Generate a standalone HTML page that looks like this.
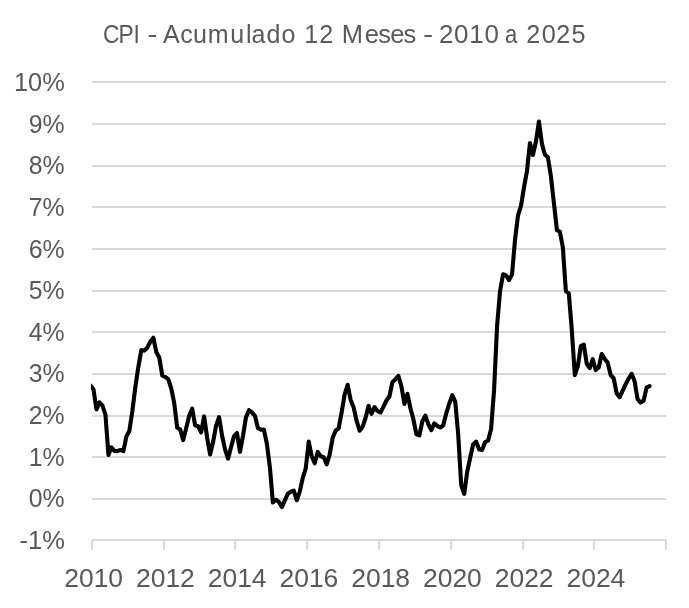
<!DOCTYPE html>
<html lang="pt"><head><meta charset="utf-8"><title>CPI - Acumulado 12 Meses - 2010 a 2025</title>
<style>
html,body{margin:0;padding:0;background:#fff;}
svg{display:block;font-family:"Liberation Sans",sans-serif;}
</style></head>
<body>
<svg width="689" height="608" viewBox="0 0 689 608" role="img" aria-label="CPI - Acumulado 12 Meses - 2010 a 2025">
<rect width="689" height="608" fill="#fff"/>
<g stroke="#d9d9d9" stroke-width="2" fill="none">
<line x1="92" x2="666" y1="82" y2="82"/>
<line x1="92" x2="666" y1="124" y2="124"/>
<line x1="92" x2="666" y1="166" y2="166"/>
<line x1="92" x2="666" y1="207" y2="207"/>
<line x1="92" x2="666" y1="249" y2="249"/>
<line x1="92" x2="666" y1="291" y2="291"/>
<line x1="92" x2="666" y1="332" y2="332"/>
<line x1="92" x2="666" y1="374" y2="374"/>
<line x1="92" x2="666" y1="416" y2="416"/>
<line x1="92" x2="666" y1="457" y2="457"/>
<line x1="92" x2="666" y1="499" y2="499"/>
<line x1="92" x2="666" y1="540" y2="540"/>
<line x1="92" x2="92" y1="540" y2="550"/>
<line x1="164" x2="164" y1="540" y2="550"/>
<line x1="235" x2="235" y1="540" y2="550"/>
<line x1="307" x2="307" y1="540" y2="550"/>
<line x1="379" x2="379" y1="540" y2="550"/>
<line x1="451" x2="451" y1="540" y2="550"/>
<line x1="523" x2="523" y1="540" y2="550"/>
<line x1="594" x2="594" y1="540" y2="550"/>
<line x1="666" x2="666" y1="540" y2="550"/>
</g>
<g fill="#595959" font-size="25">
<text transform="scale(0.9102,1)" x="113.05 130.24 146.81" y="42.9">CPI</text>
<text transform="scale(1.1918,1)" x="123.72" y="42.9">-</text>
<text transform="scale(1.0000,1)" x="162.96 180.16 192.92 207.76 230.27 246.01 251.56 266.39 281.58" y="42.9">Acumulado</text>
<text transform="scale(1.0023,1)" x="303.65 318.58" y="42.9">12</text>
<text transform="scale(1.0198,1)" x="335.12 357.68 370.83 382.59 395.74" y="42.9">Meses</text>
<text transform="scale(1.1918,1)" x="355.22" y="42.9">-</text>
<text transform="scale(1.0371,1)" x="423.32 437.83 452.46 467.24" y="42.9">2010</text>
<text transform="scale(0.8800,1)" x="573.81" y="42.9">a</text>
<text transform="scale(1.0097,1)" x="521.30 536.55 551.01 565.92" y="42.9">2025</text>

<text x="14.00" y="90.8" textLength="50.71" lengthAdjust="spacingAndGlyphs">10%</text>
<text x="28.80" y="132.8" textLength="35.86" lengthAdjust="spacingAndGlyphs">9%</text>
<text x="28.80" y="173.8" textLength="35.86" lengthAdjust="spacingAndGlyphs">8%</text>
<text x="28.80" y="215.8" textLength="35.86" lengthAdjust="spacingAndGlyphs">7%</text>
<text x="28.80" y="257.8" textLength="35.86" lengthAdjust="spacingAndGlyphs">6%</text>
<text x="28.80" y="298.8" textLength="35.86" lengthAdjust="spacingAndGlyphs">5%</text>
<text x="28.80" y="340.8" textLength="35.86" lengthAdjust="spacingAndGlyphs">4%</text>
<text x="28.80" y="381.8" textLength="35.86" lengthAdjust="spacingAndGlyphs">3%</text>
<text x="28.80" y="423.8" textLength="35.86" lengthAdjust="spacingAndGlyphs">2%</text>
<text x="28.80" y="465.8" textLength="35.86" lengthAdjust="spacingAndGlyphs">1%</text>
<text x="28.80" y="506.8" textLength="35.86" lengthAdjust="spacingAndGlyphs">0%</text>
<text x="19.50" y="548.8" textLength="45.40" lengthAdjust="spacingAndGlyphs">-1%</text>
<text x="64.20" y="586.9" textLength="58.90" lengthAdjust="spacingAndGlyphs">2010</text>
<text x="135.95" y="586.9" textLength="58.90" lengthAdjust="spacingAndGlyphs">2012</text>
<text x="207.70" y="586.9" textLength="58.90" lengthAdjust="spacingAndGlyphs">2014</text>
<text x="279.45" y="586.9" textLength="58.90" lengthAdjust="spacingAndGlyphs">2016</text>
<text x="351.20" y="586.9" textLength="58.90" lengthAdjust="spacingAndGlyphs">2018</text>
<text x="422.95" y="586.9" textLength="58.90" lengthAdjust="spacingAndGlyphs">2020</text>
<text x="494.70" y="586.9" textLength="58.90" lengthAdjust="spacingAndGlyphs">2022</text>
<text x="566.45" y="586.9" textLength="58.90" lengthAdjust="spacingAndGlyphs">2024</text>
</g>
<clipPath id="c"><rect x="91" y="60" width="580" height="500"/></clipPath>
<polyline clip-path="url(#c)" fill="none" stroke="#000" stroke-width="4.1" stroke-linejoin="round" stroke-linecap="round" points="90.51,385.51 93.49,389.44 96.48,409.52 99.47,402.42 102.46,405.65 105.45,414.62 108.44,454.91 111.43,447.33 114.42,450.96 117.41,451.14 120.40,449.96 123.39,451.17 126.38,436.49 129.37,430.82 132.36,411.01 135.35,387.11 138.34,367.04 141.33,350.18 144.32,350.59 147.31,347.68 150.30,341.74 153.29,337.70 156.28,351.99 159.27,357.43 162.26,375.42 165.24,376.97 168.23,379.22 171.22,388.37 174.21,402.89 177.20,427.80 180.19,429.48 183.18,440.12 186.17,428.30 189.16,415.85 192.15,408.73 195.14,425.31 198.13,426.27 201.12,432.36 204.11,416.41 207.10,437.40 210.09,454.50 213.08,442.06 216.07,425.72 219.06,417.13 222.05,435.54 225.04,449.43 228.03,458.64 231.02,447.26 234.01,436.24 236.99,433.02 239.98,451.87 242.97,435.80 245.96,417.45 248.95,410.20 251.94,412.48 254.93,415.81 257.92,428.00 260.91,429.73 263.90,429.47 266.89,443.71 269.88,467.27 272.87,502.48 275.86,499.81 278.85,501.83 281.84,507.07 284.83,500.43 287.82,493.61 290.81,491.70 293.80,490.64 296.79,500.27 299.78,491.66 302.77,477.87 305.76,468.39 308.74,441.59 311.73,456.39 314.72,463.27 317.71,451.92 320.70,456.32 323.69,457.24 326.68,464.32 329.67,454.51 332.66,437.82 335.65,430.65 338.64,428.29 341.63,412.38 344.62,394.67 347.61,384.77 350.60,399.64 353.59,407.18 356.58,420.70 359.57,430.75 362.56,426.82 365.55,418.03 368.54,405.79 371.53,413.78 374.52,407.06 377.51,410.95 380.49,412.56 383.48,406.67 386.47,400.51 389.46,396.22 392.45,382.14 395.44,379.20 398.43,375.96 401.42,386.38 404.41,403.96 407.40,393.74 410.39,408.14 413.38,419.23 416.37,434.18 419.36,435.47 422.35,421.21 425.34,415.64 428.33,424.23 431.32,430.13 434.31,423.34 437.30,425.91 440.29,427.51 443.28,425.32 446.27,413.36 449.26,403.62 452.24,395.23 455.23,401.55 458.22,434.67 461.21,485.06 464.20,493.85 467.19,471.88 470.18,457.71 473.17,444.23 476.16,441.67 479.15,449.55 482.14,449.86 485.13,442.05 488.12,440.48 491.11,428.97 494.10,389.69 497.09,325.57 500.08,290.89 503.07,274.28 506.06,275.36 509.05,280.12 512.04,274.33 515.03,239.71 518.02,215.26 521.01,205.79 523.99,187.33 526.98,171.04 529.97,143.09 532.96,154.90 535.95,141.46 538.94,121.55 541.93,143.82 544.92,154.74 547.91,157.28 550.90,176.27 553.89,202.72 556.88,230.03 559.87,231.87 562.86,247.46 565.85,291.21 568.84,293.48 571.83,330.24 574.82,375.14 577.81,366.45 580.80,346.16 583.79,344.72 586.78,363.81 589.77,368.14 592.76,359.19 595.74,370.07 598.73,367.48 601.72,353.98 604.71,358.98 607.70,362.65 610.69,375.05 613.68,378.24 616.67,393.39 619.66,397.14 622.65,390.60 625.64,384.29 628.63,378.52 631.62,373.83 634.61,381.28 637.60,399.22 640.59,402.53 643.58,400.71 646.57,387.63 649.56,386.14"/>
</svg>
</body></html>
